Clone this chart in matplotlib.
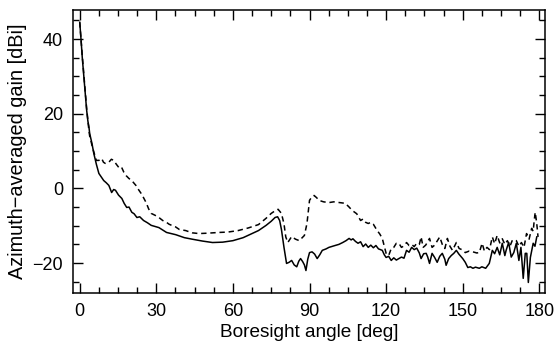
import numpy as np
import matplotlib.pyplot as plt
from matplotlib.ticker import MultipleLocator

# Azimuth-averaged gain vs boresight angle, two configurations
angle_solid = [0, 0.5, 1.0, 1.6, 2.2, 2.7, 3.2, 3.6, 3.9, 4.3, 4.8, 5.5, 6.5, 7.5, 8.5, 9.4,
               10.4, 11.4, 12.5, 13.3, 14.0, 15.2, 16.5, 17.4, 18.4, 19.3, 20.4, 21.3, 22.4,
               23.5, 25, 26.5, 28, 31, 34, 37.6, 41, 44, 48, 52, 56, 60, 64, 67.5, 70, 73,
               75, 76.5, 77.5, 78.3, 79, 80, 81, 82, 83, 84, 85, 85.8, 86.5, 87.3, 88, 88.6,
               89.3, 90, 91, 92, 93, 94, 95, 96.5, 97.6, 99, 100, 101.5, 103, 104.3, 105.5,
               106.3, 107, 108, 109, 110, 111, 112, 113, 114, 115, 116, 117, 118.5, 119.3,
               120, 121, 122, 123, 124, 125, 126, 127, 128, 129, 130, 131, 132, 133, 133.7,
               134.7, 135.7, 136.3, 137, 138, 139, 140, 141, 142, 143, 143.5, 144.5, 145.5,
               146.5, 147.5, 148.5, 150, 151, 152, 153, 154, 155, 156.5, 157.5, 159, 160.4,
               161.6, 162.5, 163.5, 164.5, 165.5, 166.5, 167, 168, 169, 170, 171, 172, 172.8,
               173.7, 174.5, 175.1, 175.7, 176.5, 177.2, 177.6, 178.3, 179]
gain_solid = [44.5, 40, 35, 30, 25, 21, 18, 16.5, 14.7, 13.5, 12, 9.4, 6.5, 4.0, 3.0, 2.1,
              1.5, 0.8, -1.1, -0.3, -0.5, -1.8, -2.7, -4.0, -5.1, -5.0, -6.4, -6.8, -7.8,
              -7.6, -8.6, -9.2, -9.9, -10.5, -11.8, -12.4, -13.2, -13.6, -14.1, -14.5, -14.4,
              -14.0, -13.2, -12.1, -11.3, -9.9, -8.8, -7.8, -7.6, -8.6, -11, -15.8, -20.1,
              -19.8, -19.3, -20.5, -21, -19.5, -18.8, -19.6, -20.5, -22, -19, -17.2, -17.0,
              -17.6, -18.8, -17.8, -16.6, -16.2, -15.8, -15.5, -15.3, -15.0, -14.5, -14.0,
              -13.4, -13.8, -13.5, -14.2, -14.7, -14.3, -15.6, -14.9, -15.8, -15.2, -15.9,
              -15.3, -16.2, -16.6, -17.8, -18.5, -18.2, -19.3, -18.6, -19.2, -18.8, -18.4,
              -18.7, -16.6, -17.1, -15.8, -16.4, -16.0, -17.3, -18.8, -17.5, -17.4, -18.4,
              -20.1, -17.4, -18.5, -19.8, -18.2, -17.4, -19.0, -20.6, -18.8, -18.0, -17.4,
              -16.6, -17.6, -18.8, -19.8, -21.2, -21.0, -21.4, -21.1, -21.4, -21.0, -21.4,
              -20.1, -16.6, -17.5, -15.8, -17.8, -14.7, -18.0, -16.6, -14.5, -18.4, -17.2,
              -14.7, -19.3, -15.8, -24.1, -17.4, -17.4, -25.2, -18.5, -16, -14.7, -15.5, -13.0]

angle_dash = [0, 0.5, 1.0, 1.6, 2.2, 2.7, 3.2, 3.6, 3.9, 4.3, 4.8, 5.5, 6.5, 7.5, 8.6, 9.3,
              10, 11.4, 12.4, 13.3, 14.3, 15.3, 16.3, 17.3, 18.2, 19.2, 20.5, 22, 23, 24, 25,
              26, 27, 28, 29.5, 31, 32.5, 34, 35, 36, 37.5, 39, 41.5, 44, 46.7, 50, 54.5, 58,
              62, 66, 70, 73, 75, 76.5, 77.7, 79, 80, 80.7, 81.5, 83, 84.5, 86, 87, 88, 89,
              90, 91, 91.8, 92.8, 93.7, 95.5, 97.6, 99.5, 101.6, 104, 105.5, 106.7, 108.5,
              110, 111, 112, 113, 114, 115, 116.5, 117.5, 118.5, 119.3, 120, 121, 122, 123,
              124, 125, 126, 127, 128, 129, 130, 131, 132, 133, 133.7, 134.5, 135.5, 137,
              138, 139, 141, 142, 143, 144, 145, 146, 147.5, 148.6, 150, 151, 152.5, 154,
              155.5, 156.5, 157.6, 158.5, 159.5, 160.5, 161.6, 162.5, 163.5, 164.5, 165.5,
              166.5, 167.5, 168.5, 169.5, 171, 172, 173, 174, 175, 176, 177, 177.6, 178,
              178.4, 178.7, 179, 179.5]
gain_dash = [44.5, 40, 35.5, 30.5, 25.5, 21.5, 18, 15.5, 14, 13, 11.5, 9.8, 7.5, 7.5, 8.0,
             7.0, 6.7, 7.0, 7.8, 7.5, 6.5, 5.6, 5.8, 4.3, 3.4, 2.7, 2.0, 0.8, -0.3, -1.3,
             -2.5, -3.8, -5.5, -6.7, -7.2, -7.8, -8.6, -9.1, -9.6, -9.9, -10.3, -11.0, -11.3,
             -11.9, -12.1, -12.0, -11.8, -11.7, -11.3, -10.6, -9.7, -8.0, -6.7, -6.0, -5.6,
             -6.7, -9.5, -13, -14.5, -12.9, -13.6, -14.0, -13.3, -12.6, -9.4, -3.2, -2.2,
             -1.9, -2.5, -3.2, -3.6, -3.8, -3.6, -3.8, -4.0, -5.0, -5.9, -6.8, -8.6, -8.2,
             -9.1, -9.4, -9.1, -9.6, -11.3, -12.2, -13.4, -15.5, -17.4, -18.0, -16.1, -15.8,
             -14.7, -14.7, -15.8, -15.4, -14.5, -15.3, -15.0, -15.6, -14.7, -15.0, -13.0,
             -15.8, -15.2, -13.4, -15.8, -15.2, -13.0, -15.0, -16.1, -13.4, -15.5, -16.6,
             -14.5, -16.1, -16.5, -17.2, -16.8, -17.0, -17.3, -17.2, -14.7, -16.8, -15.8,
             -16.4, -13.0, -14.8, -12.6, -14.6, -13.5, -15.0, -14.0, -15.5, -13.8, -14.0,
             -15.5, -14.5, -15.8, -12.1, -13.6, -10.7, -11.5, -8.6, -6.4, -8.0, -9.4, -13.0]

plt.rcParams['font.family'] = ['Liberation Sans', 'DejaVu Sans']

fig = plt.figure(figsize=(5.56, 3.43), dpi=100)
ax = fig.add_axes([0.131, 0.146, 0.850, 0.825])

ax.plot(angle_solid, gain_solid, color='black', lw=1.1)
ax.plot(angle_dash, gain_dash, color='black', lw=1.1, linestyle=(0, (3.5, 2.5)))

ax.set_xlim(-2.7, 182.4)
ax.set_ylim(-28, 47.8)
ax.xaxis.set_major_locator(MultipleLocator(30))
ax.xaxis.set_minor_locator(MultipleLocator(7.5))
ax.yaxis.set_major_locator(MultipleLocator(20))
ax.yaxis.set_minor_locator(MultipleLocator(5))
ax.tick_params(which='both', direction='in', top=True, right=True, width=1.0,
               labelsize=13, pad=7)
ax.tick_params(which='major', length=7)
ax.tick_params(which='minor', length=4)
for sp in ax.spines.values():
    sp.set_linewidth(1.1)

ax.set_xlabel('Boresight angle [deg]', fontsize=13.7, labelpad=3)
ax.set_ylabel('Azimuth\u2212averaged gain [dBi]', fontsize=14.3, labelpad=4)

fig.savefig('out.png', dpi=100)
